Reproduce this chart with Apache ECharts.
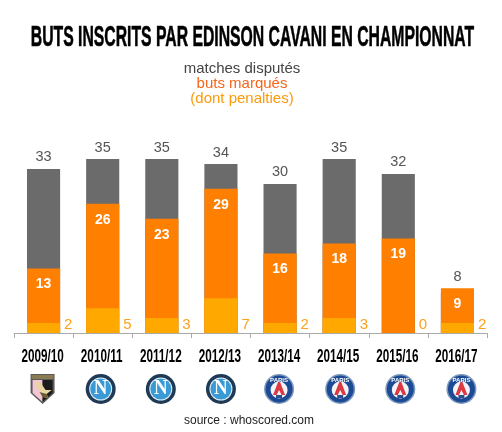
<!DOCTYPE html>
<html><head><meta charset="utf-8">
<style>html,body{margin:0;padding:0;background:#fff}#c{width:502px;height:432px}</style>
<script src="https://cdn.jsdelivr.net/npm/echarts@6/dist/echarts.min.js"></script>
</head><body><div id="c"></div>
<script>
const seasons = ['2009/10','2010/11','2011/12','2012/13','2013/14','2014/15','2015/16','2016/17'];
const matches = [33,35,35,34,30,35,32,8];
const goals = [13,26,23,29,16,18,19,9];
const penalties = [2,5,3,7,2,3,0,2];
const clubs = ['palermo','napoli','napoli','napoli','psg','psg','psg','psg'];
const labelAnchors = matches.map((m,i)=>Math.max(m,goals[i]));
const badgeShift = [-1,-2,-1,0,-1,1,2,4];

function logo(club,x,y){
  if(club==='napoli') return [
    {type:'circle',shape:{cx:x,cy:y,r:15},style:{fill:'#1f3a56'}},
    {type:'circle',shape:{cx:x,cy:y,r:11.5},style:{fill:'#e8f2f8'}},
    {type:'circle',shape:{cx:x,cy:y,r:10.5},style:{fill:'#3a9ad6'}},
    {type:'text',x:x,y:y,scaleX:0.9,style:{text:'N',fill:'#fff',font:'bold 21px "Liberation Serif"',align:'center',verticalAlign:'middle'}}
  ];
  if(club==='psg') return [
    {type:'circle',shape:{cx:x,cy:y,r:15},style:{fill:'#7c98bd'}},
    {type:'circle',shape:{cx:x,cy:y,r:13.5},style:{fill:'#1c4a94'}},
    {type:'text',x:x,y:y-9,style:{text:'PARIS',fill:'#fff',font:'bold 6px "Liberation Sans"',align:'center',verticalAlign:'middle'}},
    {type:'circle',shape:{cx:x,cy:y+1,r:8.5},style:{fill:'#f4f4f8'}},
    {type:'polygon',shape:{points:[[x-6,y+6],[x-1,y-7],[x+1,y-7],[x+6,y+6],[x+2.5,y+6],[x,y+1],[x-2.5,y+6]]},style:{fill:'#dc3a42'}},
    {type:'rect',shape:{x:x-3,y:y+6,width:6,height:3},style:{fill:'#2b4f8c'}}
  ];
  return [
    {type:'polygon',shape:{points:[[x-12,y-15],[x+12,y-15],[x+12,y+4],[x,y+15],[x-12,y+4]]},style:{fill:'#5a5a5a'}},
    {type:'rect',shape:{x:x-11,y:y-14,width:22,height:4},style:{fill:'#8a7b52'}},
    {type:'polygon',shape:{points:[[x-10,y-9],[x,y-9],[x,y+13],[x-10,y+4]]},style:{fill:'#f5c4d6'}},
    {type:'polygon',shape:{points:[[x,y-9],[x+10,y-9],[x+10,y+4],[x,y+13]]},style:{fill:'#1c1c1c'}},
    {type:'polygon',shape:{points:[[x-6,y-9],[x-1,y-5],[x+3,y+1],[x+9,y+1],[x+4,y+5],[x+6,y+9],[x,y+8],[x-3,y+3],[x-7,y-3]]},style:{fill:'#e8d5a4'}},
    {type:'polygon',shape:{points:[[x-3,y+3],[x+4,y+5],[x+6,y+9],[x,y+8]]},style:{fill:'#6b5a33'}}
  ];
}

const chart = echarts.init(document.getElementById('c'),null,{renderer:'canvas'});
chart.setOption({
  animation:false,
  backgroundColor:'#fff',
  title:[
    {text:'matches disputés',left:237,top:56,textAlign:'center',textStyle:{fontFamily:'Liberation Sans',fontSize:15,fontWeight:'normal',color:'#444'}},
    {text:'buts marqués',left:237,top:71,textAlign:'center',textStyle:{fontFamily:'Liberation Sans',fontSize:15,fontWeight:'normal',color:'#f6651a'}},
    {text:'(dont penalties)',left:237,top:86,textAlign:'center',textStyle:{fontFamily:'Liberation Sans',fontSize:15,fontWeight:'normal',color:'#fb9a0c'}},
    {text:'source : whoscored.com',left:244,top:410,textAlign:'center',textStyle:{fontFamily:'Liberation Sans',fontSize:12,fontWeight:'normal',color:'#222'}}
  ],
  graphic:[{type:'text',x:252.5,y:38,scaleX:0.525,style:{text:'BUTS INSCRITS PAR EDINSON CAVANI EN CHAMPIONNAT',font:'bold 30px "Liberation Sans"',fill:'#000',stroke:'#000',lineWidth:0.6,align:'center',verticalAlign:'middle'}}],
  grid:{left:14,right:15,top:84.5,bottom:99},
  xAxis:{type:'category',data:seasons,
    axisLine:{lineStyle:{color:'#aaa',width:1}},
    axisTick:{show:true,length:5,lineStyle:{color:'#aaa'}},
    axisLabel:{show:false}},
  yAxis:{type:'value',min:0,max:50,show:false,splitLine:{show:false}},
  series:[
    {type:'bar',name:'matches disputés',data:matches,barWidth:'56%',barGap:'-100%',itemStyle:{color:'#6b6b6b'},silent:true},
    {type:'bar',name:'buts marqués',data:goals,barGap:'-100%',barWidth:'56%',itemStyle:{color:'#ff7f00'},
      label:{show:true,position:'insideTop',distance:9,color:'#fff',fontFamily:'Liberation Sans',fontWeight:'bold',fontSize:14}},
    {type:'bar',name:'dont penalties',data:penalties,barGap:'-100%',barWidth:'56%',itemStyle:{color:'#ffa800'},
      label:{show:true,position:['100%','100%'],align:'left',verticalAlign:'bottom',offset:[4,-1],color:'#fba21c',fontFamily:'Liberation Sans',fontSize:15}},
    {type:'bar',name:'labels',data:labelAnchors,barGap:'-100%',barWidth:'56%',itemStyle:{color:'transparent'},
      label:{show:true,position:'top',distance:4,color:'#555',fontFamily:'Liberation Sans',fontSize:14.5,formatter:p=>matches[p.dataIndex]}},
    {type:'custom',name:'clubs',clip:false,silent:true,data:clubs.map((c,i)=>[i,0]),encode:{x:0,y:1},
      renderItem:(params,api)=>{
        const i=params.dataIndex;
        const p=api.coord([api.value(0),0]);
        const children=logo(clubs[i],p[0]+badgeShift[i],p[1]+56);
        children.push({type:'text',x:p[0]-1,y:p[1]+24,scaleX:0.65,style:{text:seasons[i],font:'bold 18px "Liberation Sans"',fill:'#000',align:'center',verticalAlign:'middle'}});
        return {type:'group',children};
      }}
  ]
});
</script></body></html>
